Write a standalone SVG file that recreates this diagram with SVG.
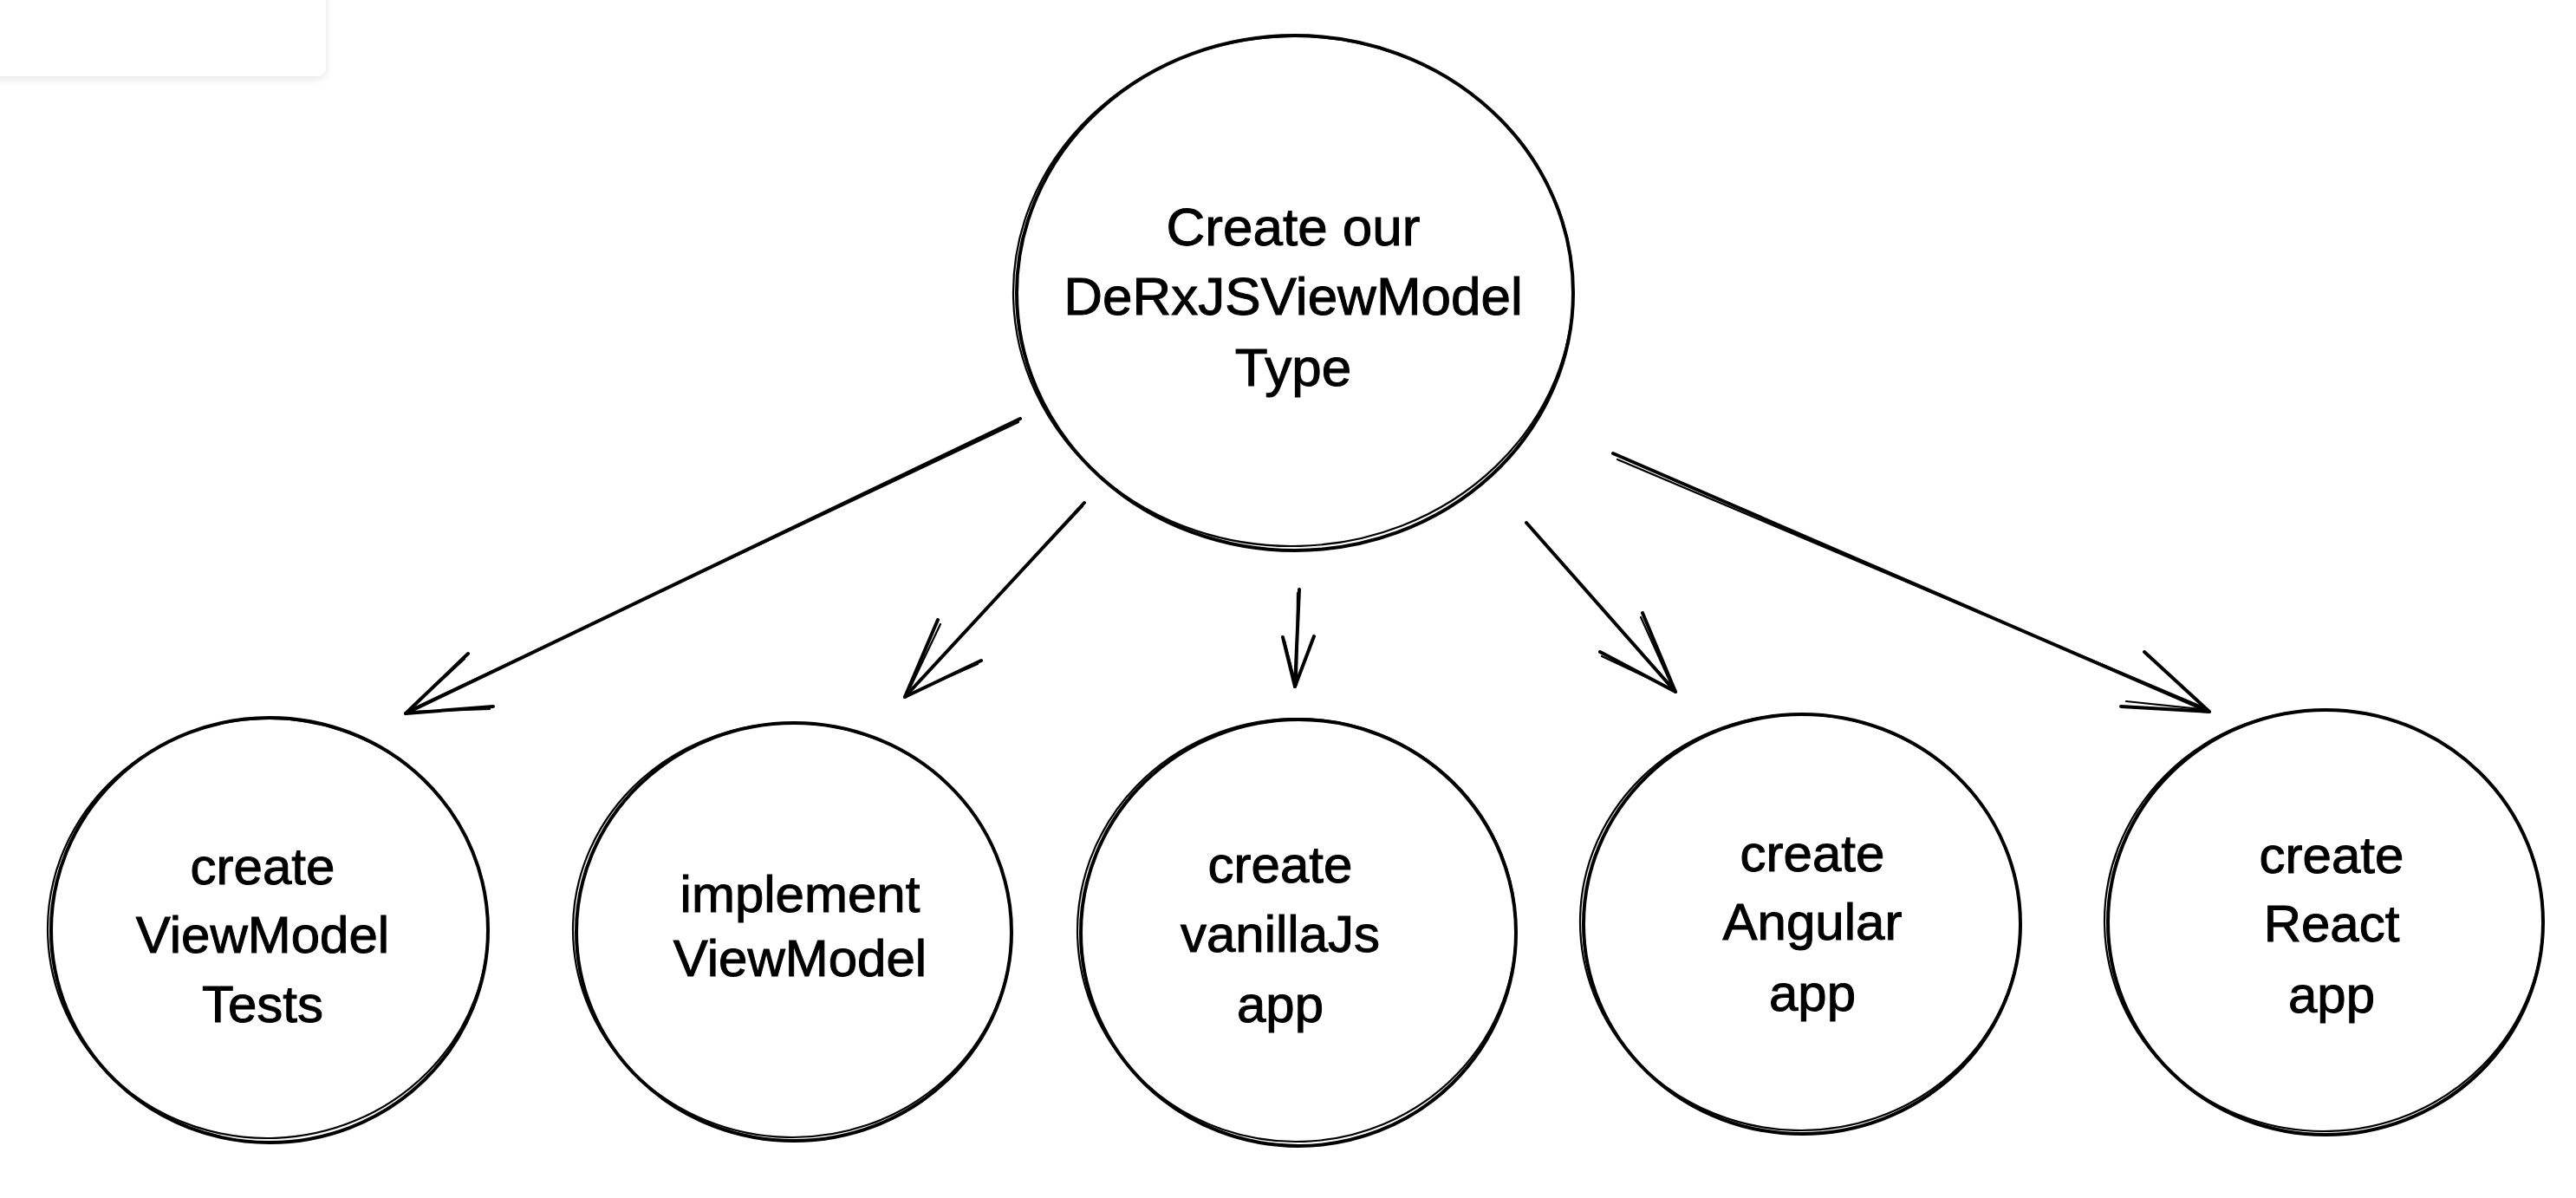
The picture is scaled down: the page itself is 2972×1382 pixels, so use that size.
<svg xmlns="http://www.w3.org/2000/svg" width="2972" height="1382" viewBox="0 0 2972 1382">
<defs>
<filter id="sh" x="-10%" y="-30%" width="130%" height="170%">
<feDropShadow dx="0" dy="3" stdDeviation="5" flood-color="#000" flood-opacity="0.10"/>
</filter>
</defs>
<style>
.s1{fill:none;stroke:#000;stroke-width:4;stroke-linecap:round;stroke-linejoin:round}
.s2{fill:none;stroke:#000;stroke-width:2.2;stroke-linecap:round;stroke-linejoin:round}
.t{font-family:"Liberation Sans","DejaVu Sans",sans-serif;fill:#000;stroke:#000;stroke-width:1;text-anchor:middle}
.tb{font-size:62px}
.ts{font-size:60px}
</style>
<rect width="2972" height="1382" fill="#ffffff"/>
<g id="panel">
<rect x="-12" y="-12" width="388" height="100" rx="10" fill="#ffffff" filter="url(#sh)"/>
</g>
<g id="node-main">
<ellipse class="s1" cx="1494" cy="338" rx="321" ry="297"/>
<ellipse class="s2" cx="1492" cy="336" rx="323" ry="294" transform="rotate(-1.5 1492 336)"/>
<text class="t tb" x="1492" y="283">Create our</text>
<text class="t tb" x="1492" y="363">DeRxJSViewModel</text>
<text class="t tb" x="1492" y="445">Type</text>
</g>
<g id="node-tests">
<ellipse class="s1" cx="311" cy="1073" rx="252" ry="245"/>
<ellipse class="s2" cx="309" cy="1071" rx="254" ry="242" transform="rotate(-2 309 1071)"/>
<text class="t ts" x="303" y="1020">create</text>
<text class="t ts" x="303" y="1099">ViewModel</text>
<text class="t ts" x="303" y="1179">Tests</text>
</g>
<g id="node-implement">
<ellipse class="s1" cx="916" cy="1075" rx="251" ry="241"/>
<ellipse class="s2" cx="914" cy="1073" rx="253" ry="239" transform="rotate(1.5 914 1073)"/>
<text class="t ts" x="923" y="1052">implement</text>
<text class="t ts" x="923" y="1126">ViewModel</text>
</g>
<g id="node-vanilla">
<ellipse class="s1" cx="1498" cy="1076" rx="251" ry="246"/>
<ellipse class="s2" cx="1496" cy="1073" rx="253" ry="244" transform="rotate(-2 1496 1073)"/>
<text class="t ts" x="1477" y="1018">create</text>
<text class="t ts" x="1477" y="1098">vanillaJs</text>
<text class="t ts" x="1477" y="1179">app</text>
</g>
<g id="node-angular">
<ellipse class="s1" cx="2079" cy="1066" rx="252" ry="242"/>
<ellipse class="s2" cx="2077" cy="1064" rx="254" ry="240" transform="rotate(1.5 2077 1064)"/>
<text class="t ts" x="2091" y="1005">create</text>
<text class="t ts" x="2091" y="1084">Angular</text>
<text class="t ts" x="2091" y="1166">app</text>
</g>
<g id="node-react">
<ellipse class="s1" cx="2683" cy="1064" rx="251" ry="245"/>
<ellipse class="s2" cx="2681" cy="1062" rx="253" ry="243" transform="rotate(-1.5 2681 1062)"/>
<text class="t ts" x="2690" y="1007">create</text>
<text class="t ts" x="2690" y="1086">React</text>
<text class="t ts" x="2690" y="1168">app</text>
</g>
<g id="connectors">
<path class="s1" d="M1177 483 L468 823"/>
<path class="s2" d="M1175 487 L471 820"/>
<path class="s1" d="M540 754 L468 823 L569 815"/>
<path class="s2" d="M536 760 L470 821 L565 818"/>
<path class="s1" d="M1251 580 L1044 804"/>
<path class="s2" d="M1249 584 L1046 801"/>
<path class="s1" d="M1082 715 L1044 804 L1132 762"/>
<path class="s2" d="M1085 720 L1046 802 L1128 766"/>
<path class="s1" d="M1499 680 L1494 792"/>
<path class="s2" d="M1497 684 L1496 790"/>
<path class="s1" d="M1480 735 L1494 792 L1516 734"/>
<path class="s2" d="M1482 739 L1495 790 L1514 738"/>
<path class="s1" d="M1761 603 L1933 798"/>
<path class="s2" d="M1764 606 L1931 795"/>
<path class="s1" d="M1895 707 L1933 798 L1846 752"/>
<path class="s2" d="M1893 712 L1931 796 L1848 757"/>
<path class="s1" d="M1861 523 L2549 821"/>
<path class="s2" d="M1866 530 L2547 818"/>
<path class="s1" d="M2474 752 L2549 821 L2447 815"/>
<path class="s2" d="M2480 757 L2547 819 L2453 809"/>
</g>
</svg>
